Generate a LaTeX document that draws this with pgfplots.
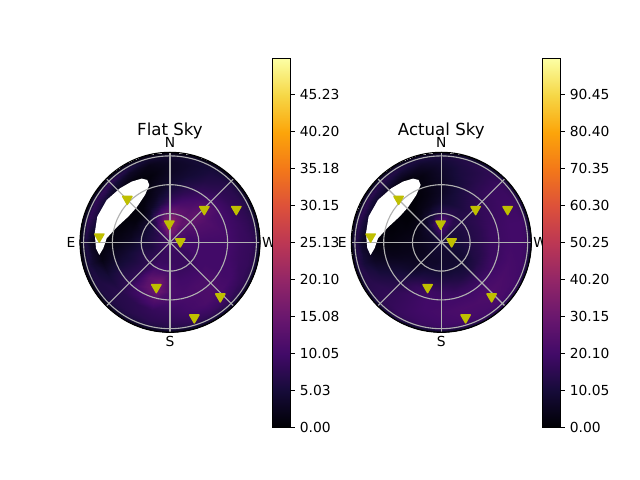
\documentclass[border=0pt]{standalone}
\usepackage{fontspec}
\setmainfont{DejaVu Sans}
\usepackage{pgfplots}
\pgfplotsset{compat=1.18}
\definecolor{satyellow}{RGB}{191,191,0}
\tikzset{
  grd/.style={color=black!31,line width=0.8pt},
  cardinal/.style={anchor=base,font=\fontsize{10}{12}\selectfont},
}
\pgfplotsset{
  colorbar shift/.style={},
  colormap={inferno}{rgb255=(0,0,4) rgb255=(22,11,57) rgb255=(66,10,104) rgb255=(106,23,110) rgb255=(147,38,103) rgb255=(188,55,84) rgb255=(221,81,58) rgb255=(243,120,25) rgb255=(252,165,10) rgb255=(246,215,70) rgb255=(252,255,164)},
  skyaxis/.style={scale only axis,width=1.8in,height=1.8in,xmin=-90,xmax=90,ymin=-90,ymax=90,
    xtick=\empty,ytick=\empty,axis line style={draw=none},clip=false,colormap name=inferno,colorbar,point meta min=0},
  cbstyle/.style={at={(#1)},anchor=south west,scale only axis,width=17.6*0.7227pt,height=369*0.7227pt,
    axis line style={draw=black,line width=0.8pt},xtick=\empty,
    tick align=outside,ytick pos=right,yticklabel pos=right,major tick length=3.5pt,
    every tick/.style={black,line width=0.8pt},
    tick label style={font=\fontsize{10}{12}\selectfont},
    yticklabel style={xshift=0pt}},
  sat/.style={only marks,mark=triangle*,mark size=3.9pt,color=satyellow,mark options={rotate=180,fill=satyellow,draw=satyellow,line join=round,line width=1pt}},
}
\newcommand{\skygrid}{%
  \draw[white,line width=2.6pt] (axis cs:0,0) circle[radius=92.2*0.7227pt];
  \draw[grd] (axis cs:-90,0)--(axis cs:90,0);
  \draw[grd] (axis cs:0,-90)--(axis cs:0,90);
  \draw[grd] (axis cs:-63.64,-63.64)--(axis cs:63.64,63.64);
  \draw[grd] (axis cs:-63.64,63.64)--(axis cs:63.64,-63.64);
  \draw[grd] (axis cs:0,0) circle[radius=28.8*0.7227pt];
  \draw[grd] (axis cs:0,0) circle[radius=57.6*0.7227pt];
  \draw[grd] (axis cs:0,0) circle[radius=86.4*0.7227pt];
  \draw[black,line width=0.8pt] (axis cs:0,0) circle[radius=90*0.7227pt];
}
\newcommand{\skylabels}[1]{%
  \node[anchor=base,font=\fontsize{12}{14}\selectfont] at (axis cs:0,107) {#1};
  \node[cardinal] at (axis cs:0,95) {N};
  \node[cardinal] at (axis cs:0,-104) {S};
  \node[cardinal] at (axis cs:-99,-5) {E};
  \node[cardinal] at (axis cs:99,-5) {W};
}
\begin{document}
\begin{tikzpicture}
\path[use as bounding box] (0,0) rectangle (6.4in,4.8in);
\coordinate (cbA) at (2.725in,0.525in);
\coordinate (cbB) at (5.425in,0.525in);
\begin{axis}[skyaxis,at={(0.80in,1.477in)},anchor=south west,point meta max=50.1,
  colorbar style={cbstyle=cbA,ytick={0,5.025,10.05,15.075,20.1,25.125,30.15,35.175,40.2,45.225},
  yticklabels={0.00,5.03,10.05,15.08,20.10,25.13,30.15,35.18,40.20,45.23}}]
\addplot[surf,shader=interp,mesh/rows=12,point meta=explicit,data cs=polar] coordinates {
(0,0)[10.5] (15,0)[10.5] (30,0)[10.5] (45,0)[10.5] (60,0)[10.5] (75,0)[10.5] (90,0)[10.5] (105,0)[10.5] (120,0)[10.5] (135,0)[10.5] (150,0)[10.5] (165,0)[10.5] (180,0)[10.5] (195,0)[10.5] (210,0)[10.5] (225,0)[10.5] (240,0)[10.5] (255,0)[10.5] (270,0)[10.5] (285,0)[10.5] (300,0)[10.5] (315,0)[10.5] (330,0)[10.5] (345,0)[10.5] (360,0)[10.5]
(0,10)[10] (15,10)[10] (30,10)[11] (45,10)[12] (60,10)[13] (75,10)[15] (90,10)[16] (105,10)[15] (120,10)[12] (135,10)[10] (150,10)[8] (165,10)[8] (180,10)[8] (195,10)[8] (210,10)[8] (225,10)[8] (240,10)[9] (255,10)[9] (270,10)[9] (285,10)[9] (300,10)[9] (315,10)[9] (330,10)[9] (345,10)[10] (360,10)[10]
(0,20)[10] (15,20)[10] (30,20)[11] (45,20)[12] (60,20)[14] (75,20)[17] (90,20)[20] (105,20)[17] (120,20)[12] (135,20)[8] (150,20)[6] (165,20)[6] (180,20)[6] (195,20)[6] (210,20)[7] (225,20)[8] (240,20)[9] (255,20)[9] (270,20)[9] (285,20)[9] (300,20)[9] (315,20)[9] (330,20)[9] (345,20)[10] (360,20)[10]
(0,30)[10] (15,30)[11] (30,30)[12] (45,30)[14] (60,30)[13] (75,30)[14] (90,30)[15] (105,30)[12] (120,30)[8] (135,30)[4] (150,30)[4] (165,30)[4] (180,30)[5] (195,30)[6] (210,30)[7] (225,30)[8] (240,30)[10] (255,30)[10.5] (270,30)[10] (285,30)[9] (300,30)[9] (315,30)[9] (330,30)[10] (345,30)[10] (360,30)[10]
(0,40)[10] (15,40)[11] (30,40)[12] (45,40)[14] (60,40)[12] (75,40)[11] (90,40)[9] (105,40)[6] (120,40)[3] (135,40)[1] (150,40)[1] (165,40)[2] (180,40)[3] (195,40)[5] (210,40)[6] (225,40)[8] (240,40)[13] (255,40)[15] (270,40)[11] (285,40)[10] (300,40)[10] (315,40)[10] (330,40)[10] (345,40)[10] (360,40)[10]
(0,50)[10] (15,50)[11] (30,50)[11] (45,50)[13] (60,50)[10] (75,50)[8] (90,50)[6] (105,50)[3] (120,50)[1] (135,50)[0.5] (150,50)[0.5] (165,50)[1] (180,50)[2] (195,50)[4] (210,50)[6] (225,50)[8] (240,50)[13] (255,50)[15.5] (270,50)[11] (285,50)[10.5] (300,50)[11] (315,50)[11] (330,50)[10] (345,50)[10] (360,50)[10]
(0,60)[10] (15,60)[10] (30,60)[10] (45,60)[10] (60,60)[8] (75,60)[6] (90,60)[4] (105,60)[2] (120,60)[0.5] (135,60)[0.5] (150,60)[0.5] (165,60)[0.5] (180,60)[1] (195,60)[3] (210,60)[6] (225,60)[8] (240,60)[10] (255,60)[12] (270,60)[10.5] (285,60)[10.5] (300,60)[11] (315,60)[11.5] (330,60)[10] (345,60)[10] (360,60)[10]
(0,70)[9] (15,70)[9] (30,70)[8.5] (45,70)[8] (60,70)[6.5] (75,70)[4.5] (90,70)[3] (105,70)[1] (120,70)[0.5] (135,70)[1] (150,70)[0.5] (165,70)[0.5] (180,70)[0.5] (195,70)[1.5] (210,70)[5] (225,70)[7] (240,70)[7.5] (255,70)[8.5] (270,70)[9] (285,70)[10] (300,70)[11] (315,70)[11] (330,70)[10] (345,70)[9] (360,70)[9]
(0,80)[8.5] (15,80)[8] (30,80)[7.5] (45,80)[7] (60,80)[5.5] (75,80)[4] (90,80)[3] (105,80)[2] (120,80)[3] (135,80)[5] (150,80)[6] (165,80)[6] (180,80)[3] (195,80)[4] (210,80)[6] (225,80)[6.5] (240,80)[7] (255,80)[7.5] (270,80)[8] (285,80)[8.5] (300,80)[9] (315,80)[9] (330,80)[8.5] (345,80)[8.5] (360,80)[8.5]
(0,85)[7.5] (15,85)[7] (30,85)[6.5] (45,85)[6] (60,85)[5] (75,85)[4.5] (90,85)[4] (105,85)[4] (120,85)[6] (135,85)[8] (150,85)[8] (165,85)[8] (180,85)[6] (195,85)[5.5] (210,85)[6] (225,85)[6] (240,85)[6] (255,85)[6.5] (270,85)[7] (285,85)[7.5] (300,85)[7.5] (315,85)[7.5] (330,85)[7.5] (345,85)[7.5] (360,85)[7.5]
(0,88)[4.5] (15,88)[4.5] (30,88)[4] (45,88)[4] (60,88)[3.5] (75,88)[3] (90,88)[3] (105,88)[3] (120,88)[3.5] (135,88)[4.5] (150,88)[4.5] (165,88)[4.5] (180,88)[3.5] (195,88)[3] (210,88)[3] (225,88)[3] (240,88)[3.5] (255,88)[4] (270,88)[4.5] (285,88)[4.5] (300,88)[4.5] (315,88)[4.5] (330,88)[4.5] (345,88)[4.5] (360,88)[4.5]
(0,90.8)[1] (15,90.8)[1] (30,90.8)[1] (45,90.8)[1] (60,90.8)[1] (75,90.8)[1] (90,90.8)[1] (105,90.8)[1] (120,90.8)[1] (135,90.8)[1] (150,90.8)[1] (165,90.8)[1] (180,90.8)[1] (195,90.8)[1] (210,90.8)[1] (225,90.8)[1] (240,90.8)[1] (255,90.8)[1] (270,90.8)[1] (285,90.8)[1] (300,90.8)[1] (315,90.8)[1] (330,90.8)[1] (345,90.8)[1] (360,90.8)[1]
};
\addplot[fill=white,draw=none] coordinates {(-28.3,63.7) (-22.7,62.3) (-20.7,57.3) (-25,47.3) (-33.3,35) (-41.7,25.7) (-53.3,15) (-63.3,4) (-66.7,-6) (-70.7,-12.7) (-74,-6) (-75.3,9) (-72.7,25.7) (-63.3,42.3) (-50,54) (-38.3,60.7)} -- cycle;
\skygrid
\addplot[sat] coordinates {(-42.7,43.2) (-70.7,5.6) (-0.7,18.5) (34.3,33) (66.3,33) (10.3,0.7) (-13.7,-45) (50.3,-54.3) (24.3,-75.3)};
\skylabels{Flat Sky}
\end{axis}
\begin{axis}[skyaxis,at={(3.513in,1.477in)},anchor=south west,point meta max=100.2,
  colorbar style={cbstyle=cbB,ytick={0,10.05,20.1,30.15,40.2,50.25,60.3,70.35,80.4,90.45},
  yticklabels={0.00,10.05,20.10,30.15,40.20,50.25,60.30,70.35,80.40,90.45}}]
\addplot[surf,shader=interp,mesh/rows=12,point meta=explicit,data cs=polar] coordinates {
(0,0)[10] (15,0)[10] (30,0)[10] (45,0)[10] (60,0)[10] (75,0)[10] (90,0)[10] (105,0)[10] (120,0)[10] (135,0)[10] (150,0)[10] (165,0)[10] (180,0)[10] (195,0)[10] (210,0)[10] (225,0)[10] (240,0)[10] (255,0)[10] (270,0)[10] (285,0)[10] (300,0)[10] (315,0)[10] (330,0)[10] (345,0)[10] (360,0)[10]
(0,10)[10] (15,10)[10] (30,10)[10] (45,10)[11] (60,10)[13] (75,10)[16] (90,10)[18] (105,10)[16] (120,10)[12] (135,10)[9] (150,10)[8] (165,10)[7] (180,10)[7] (195,10)[7] (210,10)[7] (225,10)[8] (240,10)[8] (255,10)[8] (270,10)[8] (285,10)[8] (300,10)[8] (315,10)[9] (330,10)[9] (345,10)[10] (360,10)[10]
(0,20)[11] (15,20)[11] (30,20)[11] (45,20)[12] (60,20)[15] (75,20)[20] (90,20)[26] (105,20)[20] (120,20)[13] (135,20)[8] (150,20)[6] (165,20)[5] (180,20)[5] (195,20)[5] (210,20)[5] (225,20)[6] (240,20)[7] (255,20)[7] (270,20)[8] (285,20)[8] (300,20)[8] (315,20)[8] (330,20)[9] (345,20)[10] (360,20)[11]
(0,30)[13] (15,30)[13] (30,30)[13] (45,30)[13] (60,30)[13] (75,30)[14] (90,30)[14] (105,30)[11] (120,30)[7] (135,30)[4] (150,30)[3] (165,30)[3] (180,30)[4] (195,30)[4] (210,30)[5] (225,30)[6] (240,30)[8] (255,30)[9] (270,30)[9] (285,30)[9] (300,30)[9] (315,30)[9] (330,30)[10] (345,30)[12] (360,30)[13]
(0,40)[15] (15,40)[15] (30,40)[15] (45,40)[14] (60,40)[12] (75,40)[10] (90,40)[8] (105,40)[5] (120,40)[3] (135,40)[1] (150,40)[1] (165,40)[2] (180,40)[3] (195,40)[4] (210,40)[6] (225,40)[8] (240,40)[12] (255,40)[13] (270,40)[13] (285,40)[13] (300,40)[12] (315,40)[12] (330,40)[13] (345,40)[14] (360,40)[15]
(0,50)[18] (15,50)[18] (30,50)[17] (45,50)[16] (60,50)[13] (75,50)[10] (90,50)[6] (105,50)[3] (120,50)[1] (135,50)[1] (150,50)[1] (165,50)[1] (180,50)[2] (195,50)[4] (210,50)[8] (225,50)[12] (240,50)[17] (255,50)[19] (270,50)[18] (285,50)[17] (300,50)[17] (315,50)[17] (330,50)[17] (345,50)[18] (360,50)[18]
(0,60)[19] (15,60)[19] (30,60)[18] (45,60)[17] (60,60)[14] (75,60)[10] (90,60)[6] (105,60)[3] (120,60)[1] (135,60)[1] (150,60)[1] (165,60)[1] (180,60)[2] (195,60)[5] (210,60)[10] (225,60)[14] (240,60)[18] (255,60)[20] (270,60)[20] (285,60)[20] (300,60)[20] (315,60)[21] (330,60)[20] (345,60)[19] (360,60)[19]
(0,70)[20] (15,70)[20] (30,70)[19] (45,70)[18] (60,70)[14] (75,70)[11] (90,70)[7] (105,70)[3] (120,70)[1] (135,70)[1] (150,70)[1] (165,70)[1] (180,70)[1] (195,70)[6] (210,70)[12] (225,70)[16] (240,70)[18] (255,70)[20] (270,70)[21] (285,70)[22] (300,70)[22] (315,70)[23] (330,70)[22] (345,70)[21] (360,70)[20]
(0,80)[20] (15,80)[20] (30,80)[19] (45,80)[18] (60,80)[14] (75,80)[12] (90,80)[9] (105,80)[7] (120,80)[8] (135,80)[10] (150,80)[10] (165,80)[10] (180,80)[7] (195,80)[10] (210,80)[14] (225,80)[16] (240,80)[18] (255,80)[19] (270,80)[20] (285,80)[21] (300,80)[21] (315,80)[22] (330,80)[21] (345,80)[20] (360,80)[20]
(0,85)[19] (15,85)[19] (30,85)[18] (45,85)[17] (60,85)[15] (75,85)[13] (90,85)[11] (105,85)[11] (120,85)[12] (135,85)[14] (150,85)[15] (165,85)[15] (180,85)[13] (195,85)[13] (210,85)[14] (225,85)[15] (240,85)[17] (255,85)[18] (270,85)[19] (285,85)[19] (300,85)[20] (315,85)[20] (330,85)[20] (345,85)[19] (360,85)[19]
(0,88)[13] (15,88)[13] (30,88)[12] (45,88)[12] (60,88)[11] (75,88)[10] (90,88)[9] (105,88)[9] (120,88)[9] (135,88)[10] (150,88)[10] (165,88)[10] (180,88)[10] (195,88)[10] (210,88)[10] (225,88)[11] (240,88)[12] (255,88)[12] (270,88)[13] (285,88)[13] (300,88)[14] (315,88)[14] (330,88)[14] (345,88)[13] (360,88)[13]
(0,90.8)[3] (15,90.8)[3] (30,90.8)[3] (45,90.8)[3] (60,90.8)[3] (75,90.8)[3] (90,90.8)[3] (105,90.8)[3] (120,90.8)[3] (135,90.8)[3] (150,90.8)[3] (165,90.8)[3] (180,90.8)[3] (195,90.8)[3] (210,90.8)[3] (225,90.8)[3] (240,90.8)[3] (255,90.8)[3] (270,90.8)[3] (285,90.8)[3] (300,90.8)[3] (315,90.8)[3] (330,90.8)[3] (345,90.8)[3] (360,90.8)[3]
};
\addplot[fill=white,draw=none] coordinates {(-28.3,63.7) (-22.7,62.3) (-20.7,57.3) (-25,47.3) (-33.3,35) (-41.7,25.7) (-53.3,15) (-63.3,4) (-66.7,-6) (-70.7,-12.7) (-74,-6) (-75.3,9) (-72.7,25.7) (-63.3,42.3) (-50,54) (-38.3,60.7)} -- cycle;
\skygrid
\addplot[sat] coordinates {(-42.7,43.2) (-70.7,5.6) (-0.7,18.5) (34.3,33) (66.3,33) (10.3,0.7) (-13.7,-45) (50.3,-54.3) (24.3,-75.3)};
\skylabels{Actual Sky}
\end{axis}
\end{tikzpicture}
\end{document}
